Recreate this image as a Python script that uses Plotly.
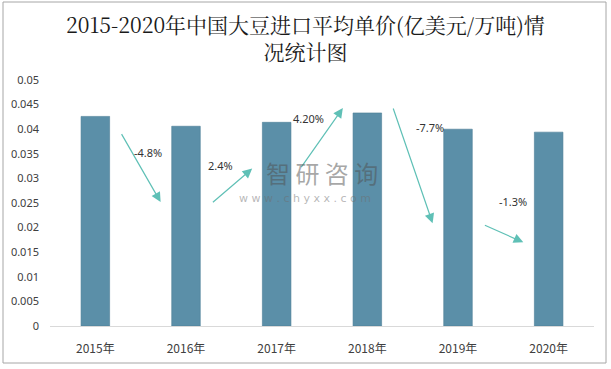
import plotly.graph_objects as go

years = ["2015年", "2016年", "2017年", "2018年", "2019年", "2020年"]
prices = [0.0426, 0.0406, 0.0414, 0.0433, 0.0400, 0.0394]
change_labels = ["-4.8%", "2.4%", "4.20%", "-7.7%", "-1.3%"]
y_ticks = [0, 0.005, 0.01, 0.015, 0.02, 0.025, 0.03, 0.035, 0.04, 0.045, 0.05]
y_tick_text = ["0", "0.005", "0.01", "0.015", "0.02", "0.025", "0.03", "0.035", "0.04", "0.045", "0.05"]
title_text = "2015-2020年中国大豆进口平均单价(亿美元/万吨)情<br>况统计图"

# arrow geometry (data coords: category index, value)
arrow_start = [(0.28, 0.0393), (1.28, 0.0249), (2.26, 0.0320), (3.28, 0.0445), (4.28, 0.0206)]
arrow_end = [(0.72, 0.0252), (1.73, 0.0320), (2.73, 0.0443), (3.72, 0.0209), (4.72, 0.0170)]
label_pos = [(0.585, 0.0353), (1.38, 0.0327), (2.35, 0.0422), (3.69, 0.0404), (4.61, 0.0253)]

L, R, T, B, W, H = 50, 17, 80, 43, 611, 369
pw, ph = W - L - R, H - T - B


def px_x(px):
    return (px - L) / pw


def px_y(py):
    return (H - py - B) / ph


fig = go.Figure()
fig.add_trace(go.Bar(
    x=list(range(len(years))), y=prices,
    marker=dict(color="#5B8FA8", line=dict(color="#4C7D95", width=0.6)),
    width=0.315, hoverinfo="skip",
))

ann = []
for (sx, sy), (ex, ey) in zip(arrow_start, arrow_end):
    ann.append(dict(x=ex, y=ey, xref="x", yref="y", ax=sx, ay=sy, axref="x", ayref="y",
                    text="", showarrow=True, arrowhead=2, arrowsize=1.6, arrowwidth=1.2,
                    arrowcolor="#5FC0B6"))
for (lx, ly), t in zip(label_pos, change_labels):
    ann.append(dict(x=lx, y=ly, xref="x", yref="y", text=t, showarrow=False,
                    font=dict(size=11, color="#333333", family="Noto Sans, Liberation Sans, sans-serif")))
# watermark
ann.append(dict(x=px_x(322), y=px_y(191), xref="paper", yref="paper", showarrow=False,
                yanchor="bottom", borderpad=0, text="智 研 咨 询",
                font=dict(size=24, color="rgba(80,80,80,0.5)", family="Noto Sans CJK SC")))
ann.append(dict(x=px_x(305), y=px_y(191), xref="paper", yref="paper", showarrow=False,
                yanchor="top", borderpad=0, text="w w w . c h y x x . c o m",
                font=dict(size=11, color="rgba(110,110,110,0.5)", family="DejaVu Sans")))
# title
ann.append(dict(x=px_x(305), y=px_y(37), xref="paper", yref="paper", text=title_text,
                showarrow=False, xanchor="center", yanchor="middle",
                font=dict(size=21, color="#1a1a1a",
                          family="Noto Serif CJK SC, Liberation Serif, Noto Sans CJK SC, serif")))

fig.update_layout(
    width=W, height=H,
    margin=dict(l=L, r=R, t=T, b=B),
    paper_bgcolor="white", plot_bgcolor="white",
    showlegend=False,
    annotations=ann,
    shapes=[dict(type="rect", xref="paper", yref="paper",
                 x0=px_x(3), x1=px_x(606), y0=px_y(363), y1=px_y(2),
                 line=dict(color="#A6A6A6", width=1), fillcolor="rgba(0,0,0,0)")],
)
fig.update_xaxes(
    tickmode="array", tickvals=list(range(len(years))), ticktext=years,
    range=[-0.5, 5.5], showgrid=False, zeroline=False,
    showline=True, linecolor="#D9D9D9", linewidth=1,
    ticks="", ticklabelstandoff=12,
    tickfont=dict(size=12, color="#404040", family="Noto Sans CJK SC"),
)
fig.update_yaxes(
    range=[0, 0.05], tickmode="array", tickvals=y_ticks, ticktext=y_tick_text,
    showgrid=False, zeroline=False, showline=False, ticks="", ticklabelstandoff=10,
    tickfont=dict(size=11, color="#404040", family="Noto Sans, Liberation Sans, sans-serif"),
)
fig.write_html("out.html", config={"displayModeBar": False},
               post_script="document.body.style.margin='0';document.body.style.overflow='hidden';")
